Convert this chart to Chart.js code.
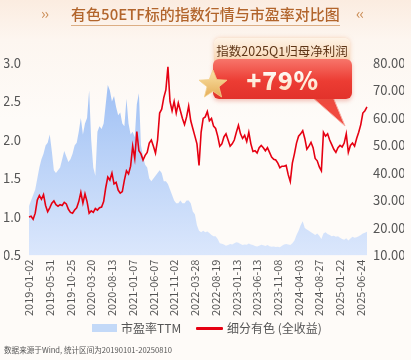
<!DOCTYPE html>
<html><head><meta charset="utf-8">
<script src="https://cdn.jsdelivr.net/npm/chart.js@4.4.1/dist/chart.umd.min.js"></script>
<style>
html,body{margin:0;padding:0;}
body{width:411px;height:360px;overflow:hidden;position:relative;font-family:"Noto Sans CJK SC","Noto Sans",sans-serif;
background:linear-gradient(180deg,#fbece0 0px,#fdf6f0 40px,#fefbf8 120px,#fefbf8 100%);}
#wrap{position:absolute;left:0;top:0;width:411px;height:320px;}
#title{position:absolute;top:3px;left:0;width:411px;text-align:center;font-size:15px;font-weight:500;color:#b2652c;line-height:22px;}
#title span{border-bottom:1.5px solid #dcae84;padding-bottom:1px;}
.deco{position:absolute;top:3px;font-size:15px;color:#c98a52;letter-spacing:-1px;line-height:20px;}
#src{position:absolute;left:4px;top:344px;font-size:7.6px;color:#555;line-height:12px;white-space:nowrap;}
#tab{position:absolute;left:214px;top:38px;width:136px;height:24px;border-radius:6px 6px 0 0;
background:linear-gradient(180deg,#fef3e6,#f8d6b2);color:#5e3516;font-size:12.5px;text-align:center;line-height:26px;box-shadow:0 0 4px rgba(240,170,120,.5);}
#box{position:absolute;left:213px;top:59px;width:139px;height:40px;border-radius:6px;
background:linear-gradient(180deg,#f7756a 0%,#ec3c33 55%,#e2322b 100%);box-shadow:0 2px 4px rgba(220,80,60,.35);
text-align:center;}
#box b{font-size:25px;font-weight:800;line-height:40px;letter-spacing:0.5px;
background:linear-gradient(180deg,#ffffff 20%,#fcd8b4 100%);-webkit-background-clip:text;background-clip:text;color:transparent;}
#tail{position:absolute;left:0;top:0;}
#star{position:absolute;left:197px;top:69px;}
#legend{position:absolute;top:320px;left:0;width:411px;height:16px;font-size:12px;color:#555;line-height:16px;}
.lg{position:absolute;top:0;white-space:nowrap;}
.sw{position:absolute;}
</style></head>
<body>
<div id="wrap"><canvas id="c" width="411" height="320"></canvas></div>
<div class="deco" style="left:41px;">››</div>
<div class="deco" style="left:356px;">‹‹</div>
<div id="title"><span>有色50ETF标的指数行情与市盈率对比图</span></div>
<svg id="tail" width="411" height="360"><polygon points="312,97 333,97 345,126" fill="#f04a40" stroke="#f7b0a6" stroke-width="1"/></svg>
<div id="tab">指数2025Q1归母净利润</div>
<div id="box"><b>+79%</b></div>
<svg id="star" width="32" height="30" viewBox="0 0 32 30"><defs><linearGradient id="sg" x1="0" y1="0" x2="0" y2="1"><stop offset="0" stop-color="#fbe4a8"/><stop offset="1" stop-color="#e5ad58"/></linearGradient></defs>
<polygon points="16,1 19.8,10.6 30,11.2 22,17.8 24.6,28 16,22.3 7.4,28 10,17.8 2,11.2 12.2,10.6" fill="url(#sg)" stroke="#f3cf8a" stroke-width="0.8"/></svg>
<div id="legend">
  <div class="sw" style="left:92px;top:4px;width:25px;height:8px;background:#c3d9f8;"></div>
  <div class="lg" style="left:121px;">市盈率TTM</div>
  <div class="sw" style="left:196px;top:7px;width:27px;height:3px;background:#e60012;border-radius:1px;"></div>
  <div class="lg" style="left:227px;">细分有色 (全收益)</div>
</div>
<div id="src">数据来源于Wind, 统计区间为20190101-20250810</div>
<script>
const tickLabels = ['2019-01-02','2019-05-31','2019-10-25','2020-03-20','2020-08-13','2021-01-07','2021-06-07','2021-11-02','2022-03-28','2022-08-19','2023-01-13','2023-06-13','2023-11-08','2024-04-03','2024-08-27','2025-01-22','2025-06-24'];
const tickStep = 10;
const indexValues = [
1.00,1.01,0.97,1.05,1.22,1.28,1.23,1.29,1.15,1.07,
1.12,1.18,1.21,1.16,1.14,1.16,1.15,1.19,1.17,1.10,
1.06,1.05,1.09,1.12,1.20,1.32,1.18,1.30,1.20,1.05,
1.08,1.06,1.11,1.09,1.12,1.13,1.20,1.38,1.52,1.48,
1.57,1.43,1.45,1.35,1.31,1.33,1.48,1.60,1.56,1.66,
1.92,1.76,2.11,1.86,1.82,1.74,1.80,1.84,1.96,2.00,
1.92,1.83,2.00,2.35,2.40,2.55,2.65,2.95,2.50,2.38,
2.50,2.35,2.48,2.38,2.28,2.20,2.30,2.44,2.25,2.15,
2.05,1.95,1.67,2.10,2.28,2.30,2.37,2.25,2.28,2.18,
2.15,2.05,1.92,1.95,2.04,2.08,2.00,1.92,1.95,2.00,
2.10,2.19,2.08,2.02,2.06,1.98,2.10,1.95,1.85,1.86,
1.83,1.90,1.93,1.90,1.86,1.90,1.84,1.78,1.75,1.74,
1.70,1.64,1.66,1.66,1.67,1.55,1.46,1.70,1.82,1.96,
2.05,2.08,2.12,2.02,1.88,1.92,1.97,1.90,1.76,1.73,
1.65,1.60,2.10,2.05,2.08,2.00,1.94,1.88,1.84,1.90,
1.93,1.91,1.96,2.08,1.84,1.93,1.96,1.92,2.02,2.10,
2.20,2.35,2.38,2.43];
const peValues = [
28,30,32,34,38,42,45,47,50,51,
54,48,41,40,41,42,45,48,46,44,
45,47,50,51,55,60,54,58,60,70,
52,42,39,55,57,56,58,65,72,70,
66,68,64,61,62,58,57,67,58,54,
55,53,65,69,50,46,43,42,38,37,
38,39,40,41,40,37,37,36,34,32,
30,29,29,30,29,29,30,30,29,26,
25,21,19,18.5,19,18.5,18.7,18.2,17.5,17,
17,16,14.5,14.3,14,13.6,13.8,14.2,14,14.5,
14.8,14.6,14.2,13.8,14,13.9,14.4,14,13.8,13.5,
13.3,13.6,13.9,13.7,13.5,13.8,13.4,13.2,13.3,13.1,
13.2,13.0,13.6,14.0,14.2,14.0,13.8,14.5,15.5,17.5,
19,21,22.5,20,19.5,19,18.5,18,17.5,18,
17.2,16,18,18.5,17.8,17.5,17,17.2,16.8,17,
16.5,16,15.7,16.3,15.5,16.2,16.8,16.5,16.6,17,
17.5,18,18.3,18.6];
const categories = indexValues.map((v,i)=> i % tickStep === 0 && tickLabels[i/tickStep] ? tickLabels[i/tickStep] : '');
const FONT = '"Noto Sans CJK SC","Noto Sans",sans-serif';

new Chart(document.getElementById('c'), {
  type: 'line',
  data: {
    labels: categories,
    datasets: [
      { label: '市盈率TTM', data: peValues, yAxisID: 'y1', order: 1, fill: 'start', borderWidth: 0, pointRadius: 0, tension: 0,
        borderColor: 'rgba(0,0,0,0)',
        backgroundColor: (ctx) => {
          const ch = ctx.chart, a = ch.chartArea;
          if (!a) return '#c3d9f8';
          const g = ch.ctx.createLinearGradient(0, a.top, 0, a.bottom);
          g.addColorStop(0, '#98bbf4'); g.addColorStop(0.45, '#b7d0f7'); g.addColorStop(1, '#dbe7fc');
          return g;
        } },
      { label: '细分有色 (全收益)', data: indexValues, yAxisID: 'y', order: 0, fill: false, borderColor: '#e60012', borderWidth: 1.6, pointRadius: 0, tension: 0 }
    ]
  },
  options: {
    animation: false, responsive: false,
    layout: { padding: { top: 63, left: 4, right: 7, bottom: 0 } },
    plugins: { tooltip: { enabled: false }, legend: { display: false } },
    scales: {
      x: { type: 'category', offset: false, grid: { display: false, drawTicks: false }, border: { display: false },
        ticks: { autoSkip: false, minRotation: 90, maxRotation: 90, padding: 4, color: '#555', font: { family: FONT, size: 11 },
          callback: function (v, i) { return i % tickStep === 0 ? this.getLabelForValue(v) : null; } } },
      y: { position: 'left', min: 0.5, max: 3.0, grid: { display: false, drawTicks: false }, border: { display: false },
        afterFit: s => { s.width = 25; },
        ticks: { stepSize: 0.5, padding: 8, color: '#555', font: { family: FONT, size: 13 }, callback: v => Number(v).toFixed(1) } },
      y1: { position: 'right', min: 10, max: 80, grid: { display: false, drawTicks: false }, border: { display: false },
        afterFit: s => { s.width = 37; },
        ticks: { stepSize: 10, padding: 6, color: '#555', font: { family: FONT, size: 13 }, callback: v => Number(v).toFixed(2) } }
    }
  }
});
</script>
</body></html>
